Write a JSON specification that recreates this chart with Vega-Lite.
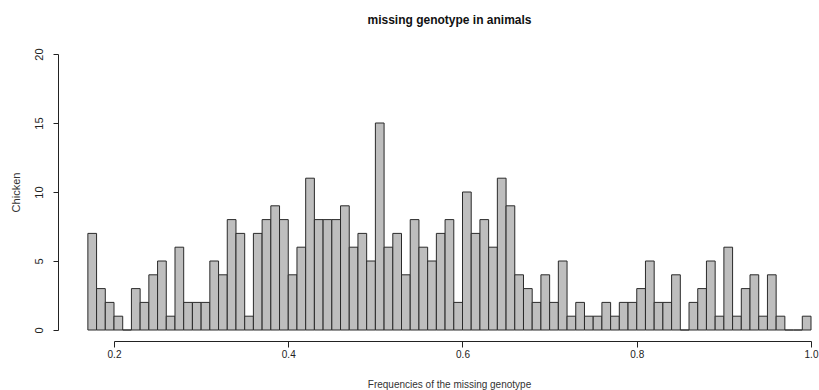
{
  "$schema": "https://vega.github.io/schema/vega-lite/v6.json",
  "autosize": {"type": "none"},
  "padding": {"left": 114, "top": 54, "right": 8, "bottom": 60},
  "width": 697,
  "height": 276,
  "background": "white",
  "title": {
    "text": "missing genotype in animals",
    "font": "Liberation Sans",
    "fontSize": 12,
    "fontWeight": "bold",
    "color": "#111",
    "anchor": "middle",
    "frame": "group",
    "baseline": "bottom",
    "offset": 9,
    "dx": -13
  },
  "config": {
    "view": {"stroke": null},
    "axis": {"grid": false, "domainColor": "#222", "tickColor": "#222", "labelColor": "#222", "titleColor": "#333", "labelFont": "Liberation Sans", "titleFont": "Liberation Sans", "titleFontWeight": "normal"}
  },
  "data": {
    "values": [
      {"bin_start": 0.17, "bin_end": 0.18, "count": 7},
      {"bin_start": 0.18, "bin_end": 0.19, "count": 3},
      {"bin_start": 0.19, "bin_end": 0.20, "count": 2},
      {"bin_start": 0.20, "bin_end": 0.21, "count": 1},
      {"bin_start": 0.21, "bin_end": 0.22, "count": 0},
      {"bin_start": 0.22, "bin_end": 0.23, "count": 3},
      {"bin_start": 0.23, "bin_end": 0.24, "count": 2},
      {"bin_start": 0.24, "bin_end": 0.25, "count": 4},
      {"bin_start": 0.25, "bin_end": 0.26, "count": 5},
      {"bin_start": 0.26, "bin_end": 0.27, "count": 1},
      {"bin_start": 0.27, "bin_end": 0.28, "count": 6},
      {"bin_start": 0.28, "bin_end": 0.29, "count": 2},
      {"bin_start": 0.29, "bin_end": 0.30, "count": 2},
      {"bin_start": 0.30, "bin_end": 0.31, "count": 2},
      {"bin_start": 0.31, "bin_end": 0.32, "count": 5},
      {"bin_start": 0.32, "bin_end": 0.33, "count": 4},
      {"bin_start": 0.33, "bin_end": 0.34, "count": 8},
      {"bin_start": 0.34, "bin_end": 0.35, "count": 7},
      {"bin_start": 0.35, "bin_end": 0.36, "count": 1},
      {"bin_start": 0.36, "bin_end": 0.37, "count": 7},
      {"bin_start": 0.37, "bin_end": 0.38, "count": 8},
      {"bin_start": 0.38, "bin_end": 0.39, "count": 9},
      {"bin_start": 0.39, "bin_end": 0.40, "count": 8},
      {"bin_start": 0.40, "bin_end": 0.41, "count": 4},
      {"bin_start": 0.41, "bin_end": 0.42, "count": 6},
      {"bin_start": 0.42, "bin_end": 0.43, "count": 11},
      {"bin_start": 0.43, "bin_end": 0.44, "count": 8},
      {"bin_start": 0.44, "bin_end": 0.45, "count": 8},
      {"bin_start": 0.45, "bin_end": 0.46, "count": 8},
      {"bin_start": 0.46, "bin_end": 0.47, "count": 9},
      {"bin_start": 0.47, "bin_end": 0.48, "count": 6},
      {"bin_start": 0.48, "bin_end": 0.49, "count": 7},
      {"bin_start": 0.49, "bin_end": 0.50, "count": 5},
      {"bin_start": 0.50, "bin_end": 0.51, "count": 15},
      {"bin_start": 0.51, "bin_end": 0.52, "count": 6},
      {"bin_start": 0.52, "bin_end": 0.53, "count": 7},
      {"bin_start": 0.53, "bin_end": 0.54, "count": 4},
      {"bin_start": 0.54, "bin_end": 0.55, "count": 8},
      {"bin_start": 0.55, "bin_end": 0.56, "count": 6},
      {"bin_start": 0.56, "bin_end": 0.57, "count": 5},
      {"bin_start": 0.57, "bin_end": 0.58, "count": 7},
      {"bin_start": 0.58, "bin_end": 0.59, "count": 8},
      {"bin_start": 0.59, "bin_end": 0.60, "count": 2},
      {"bin_start": 0.60, "bin_end": 0.61, "count": 10},
      {"bin_start": 0.61, "bin_end": 0.62, "count": 7},
      {"bin_start": 0.62, "bin_end": 0.63, "count": 8},
      {"bin_start": 0.63, "bin_end": 0.64, "count": 6},
      {"bin_start": 0.64, "bin_end": 0.65, "count": 11},
      {"bin_start": 0.65, "bin_end": 0.66, "count": 9},
      {"bin_start": 0.66, "bin_end": 0.67, "count": 4},
      {"bin_start": 0.67, "bin_end": 0.68, "count": 3},
      {"bin_start": 0.68, "bin_end": 0.69, "count": 2},
      {"bin_start": 0.69, "bin_end": 0.70, "count": 4},
      {"bin_start": 0.70, "bin_end": 0.71, "count": 2},
      {"bin_start": 0.71, "bin_end": 0.72, "count": 5},
      {"bin_start": 0.72, "bin_end": 0.73, "count": 1},
      {"bin_start": 0.73, "bin_end": 0.74, "count": 2},
      {"bin_start": 0.74, "bin_end": 0.75, "count": 1},
      {"bin_start": 0.75, "bin_end": 0.76, "count": 1},
      {"bin_start": 0.76, "bin_end": 0.77, "count": 2},
      {"bin_start": 0.77, "bin_end": 0.78, "count": 1},
      {"bin_start": 0.78, "bin_end": 0.79, "count": 2},
      {"bin_start": 0.79, "bin_end": 0.80, "count": 2},
      {"bin_start": 0.80, "bin_end": 0.81, "count": 3},
      {"bin_start": 0.81, "bin_end": 0.82, "count": 5},
      {"bin_start": 0.82, "bin_end": 0.83, "count": 2},
      {"bin_start": 0.83, "bin_end": 0.84, "count": 2},
      {"bin_start": 0.84, "bin_end": 0.85, "count": 4},
      {"bin_start": 0.85, "bin_end": 0.86, "count": 0},
      {"bin_start": 0.86, "bin_end": 0.87, "count": 2},
      {"bin_start": 0.87, "bin_end": 0.88, "count": 3},
      {"bin_start": 0.88, "bin_end": 0.89, "count": 5},
      {"bin_start": 0.89, "bin_end": 0.90, "count": 1},
      {"bin_start": 0.90, "bin_end": 0.91, "count": 6},
      {"bin_start": 0.91, "bin_end": 0.92, "count": 1},
      {"bin_start": 0.92, "bin_end": 0.93, "count": 3},
      {"bin_start": 0.93, "bin_end": 0.94, "count": 4},
      {"bin_start": 0.94, "bin_end": 0.95, "count": 1},
      {"bin_start": 0.95, "bin_end": 0.96, "count": 4},
      {"bin_start": 0.96, "bin_end": 0.97, "count": 1},
      {"bin_start": 0.97, "bin_end": 0.98, "count": 0},
      {"bin_start": 0.98, "bin_end": 0.99, "count": 0},
      {"bin_start": 0.99, "bin_end": 1.00, "count": 1}
    ]
  },
  "mark": {"type": "rect", "fill": "#bebebe", "stroke": "#2a2a2a", "strokeWidth": 1},
  "encoding": {
    "x": {
      "field": "bin_start",
      "type": "quantitative",
      "scale": {"domain": [0.2, 1.0], "nice": false, "zero": false},
      "axis": {
        "values": [0.2, 0.4, 0.6, 0.8, 1.0],
        "format": ".1f",
        "offset": 11,
        "tickSize": 6,
        "labelPadding": 2,
        "labelFontSize": 10,
        "labelFlush": false,
        "title": "Frequencies of the missing genotype",
        "titleFontSize": 10,
        "titleX": 335,
        "titleY": 43,
        "titleAlign": "center",
        "titleBaseline": "middle"
      }
    },
    "x2": {"field": "bin_end"},
    "y": {
      "field": "count",
      "type": "quantitative",
      "scale": {"domain": [0, 20], "nice": false},
      "axis": {
        "values": [0, 5, 10, 15, 20],
        "offset": 56,
        "tickSize": 5,
        "labelAngle": 270,
        "labelAlign": "center",
        "labelBaseline": "bottom",
        "labelPadding": 9,
        "labelFontSize": 11,
        "labelFlush": false,
        "title": "Chicken",
        "titleFontSize": 11,
        "titleAngle": 270,
        "titleX": -42,
        "titleY": 138,
        "titleAlign": "center",
        "titleBaseline": "middle"
      }
    },
    "y2": {"datum": 0}
  }
}
